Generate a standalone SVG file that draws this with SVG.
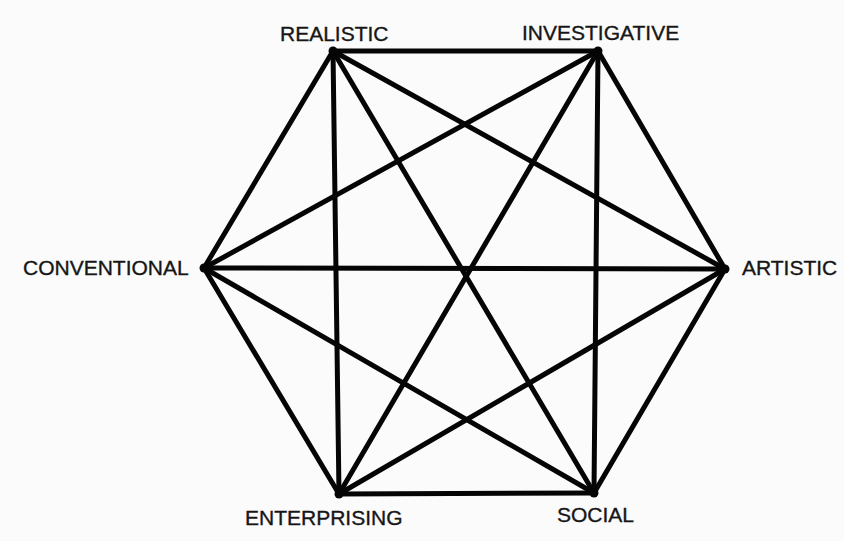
<svg xmlns="http://www.w3.org/2000/svg" width="844" height="541" viewBox="0 0 844 541">
<style>
.e{stroke:#050505;stroke-width:5;stroke-linecap:round;fill:none}
.t{font-family:"Liberation Sans",Arial,sans-serif;font-size:21px;fill:#161616;stroke:#161616;stroke-width:0.35}
.v{fill:#050505}
</style>
<rect width="844" height="541" fill="#fbfbfb"/>
<g id="connectors">
<line class="e" x1="333" y1="51" x2="598" y2="51"/>
<line class="e" x1="598" y1="51" x2="725" y2="269"/>
<line class="e" x1="725" y1="269" x2="594" y2="493"/>
<line class="e" x1="594" y1="493" x2="339" y2="494"/>
<line class="e" x1="339" y1="494" x2="204" y2="268"/>
<line class="e" x1="204" y1="268" x2="333" y2="51"/>
<line class="e" x1="333" y1="51" x2="725" y2="269"/>
<line class="e" x1="333" y1="51" x2="594" y2="493"/>
<line class="e" x1="333" y1="51" x2="339" y2="494"/>
<line class="e" x1="598" y1="51" x2="594" y2="493"/>
<line class="e" x1="598" y1="51" x2="339" y2="494"/>
<line class="e" x1="598" y1="51" x2="204" y2="268"/>
<line class="e" x1="725" y1="269" x2="339" y2="494"/>
<line class="e" x1="725" y1="269" x2="204" y2="268"/>
<line class="e" x1="594" y1="493" x2="204" y2="268"/>
</g>
<g id="realistic"><circle class="v" cx="333" cy="51" r="4.5"/><text class="t" x="280" y="41">REALISTIC</text></g>
<g id="investigative"><circle class="v" cx="598" cy="51" r="4.5"/><text class="t" x="522" y="40">INVESTIGATIVE</text></g>
<g id="artistic"><circle class="v" cx="725" cy="269" r="4.5"/><text class="t" x="742" y="275">ARTISTIC</text></g>
<g id="social"><circle class="v" cx="594" cy="493" r="4.5"/><text class="t" x="557" y="522">SOCIAL</text></g>
<g id="enterprising"><circle class="v" cx="339" cy="494" r="4.5"/><text class="t" x="245" y="525">ENTERPRISING</text></g>
<g id="conventional"><circle class="v" cx="204" cy="268" r="4.5"/><text class="t" x="23" y="275">CONVENTIONAL</text></g>
</svg>
